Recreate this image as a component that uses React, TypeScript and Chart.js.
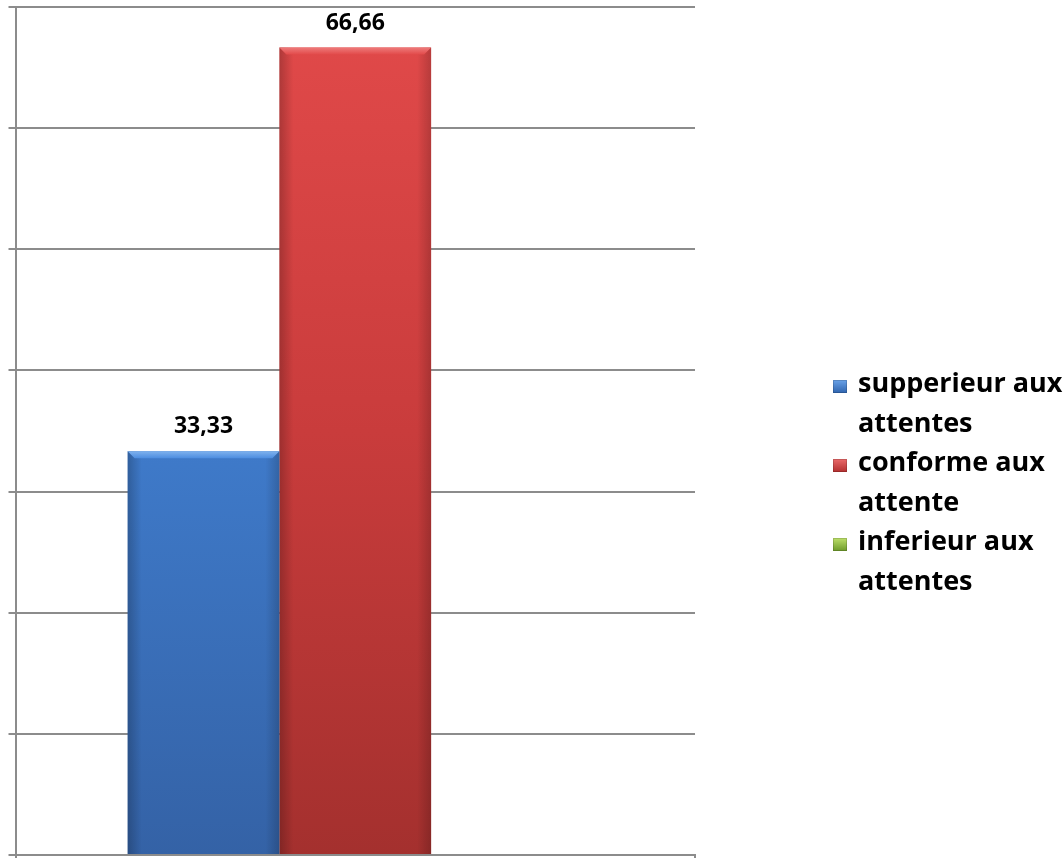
import React, { useEffect, useRef } from "react";
import { Chart, registerables } from "chart.js";

Chart.register(...registerables);

const categories = [""];
const seriesNames = ["supperieur aux attentes", "conforme aux attente", "inferieur aux attentes"];
const legendLines = [
  ["supperieur aux", "attentes"],
  ["conforme aux", "attente"],
  ["inferieur aux", "attentes"],
];
const valuesSup = [33.33];
const valuesConf = [66.66];
const valuesInf: (number | null)[] = [null];
const yTicks = [0, 10, 20, 30, 40, 50, 60, 70];

const palettes = [
  { top: "#4d8de0", mid: "#3f7bcb", bottom: "#3462a6", light: "#7fb2ee", legend: ["#6aa2e8", "#2f64ae"] },
  { top: "#e24a4a", mid: "#c93c3c", bottom: "#a4302e", light: "#ee7b7b", legend: ["#ea6a6a", "#b22f2f"] },
  { top: "#a6cc4e", mid: "#8fb83e", bottom: "#6f9430", light: "#c6e27e", legend: ["#bde06a", "#6d9a2a"] },
];

const FONT = "'Open Sans', 'DejaVu Sans', sans-serif";

const fmt = (v: number) => v.toFixed(2).replace(".", ",");

const bevelPlugin = {
  id: "bevel",
  afterDatasetsDraw(chart: any) {
    const ctx = chart.ctx;
    chart.data.datasets.forEach((ds: any, di: number) => {
      const meta = chart.getDatasetMeta(di);
      const pal = palettes[di];
      meta.data.forEach((bar: any, i: number) => {
        const v = ds.data[i];
        if (v === null || v === undefined) return;
        const { x, y, base, width } = bar.getProps(["x", "y", "base", "width"], true);
        const l = x - width / 2;
        const r = x + width / 2;
        const b = 7;
        ctx.save();
        const gl = ctx.createLinearGradient(l, 0, l + 14, 0);
        gl.addColorStop(0, "rgba(0,0,0,0.22)");
        gl.addColorStop(1, "rgba(0,0,0,0)");
        ctx.fillStyle = gl;
        ctx.fillRect(l, y, 14, base - y);
        const gr = ctx.createLinearGradient(r - 14, 0, r, 0);
        gr.addColorStop(0, "rgba(0,0,0,0)");
        gr.addColorStop(1, "rgba(0,0,0,0.18)");
        ctx.fillStyle = gr;
        ctx.fillRect(r - 14, y, 14, base - y);
        const gt = ctx.createLinearGradient(0, y, 0, y + b);
        gt.addColorStop(0, pal.light);
        gt.addColorStop(1, pal.top);
        ctx.fillStyle = gt;
        ctx.beginPath();
        ctx.moveTo(l, y);
        ctx.lineTo(r, y);
        ctx.lineTo(r - b, y + b);
        ctx.lineTo(l + b, y + b);
        ctx.closePath();
        ctx.fill();
        ctx.fillStyle = "#000";
        ctx.font = `bold 23px ${FONT}`;
        ctx.textAlign = "center";
        ctx.textBaseline = "bottom";
        ctx.fillText(fmt(v), x, y - 13);
        ctx.restore();
      });
    });
  },
};

export default function App() {
  const ref = useRef<HTMLCanvasElement | null>(null);

  useEffect(() => {
    if (!ref.current) return;
    const mkBg = (di: number) => (c: any) => {
      const area = c.chart.chartArea;
      if (!area) return palettes[di].mid;
      const g = c.chart.ctx.createLinearGradient(0, area.top, 0, area.bottom);
      g.addColorStop(0, palettes[di].top);
      g.addColorStop(0.5, palettes[di].mid);
      g.addColorStop(1, palettes[di].bottom);
      return g;
    };
    const chart = new Chart(ref.current, {
      type: "bar",
      data: {
        labels: categories,
        datasets: [
          { label: seriesNames[0], data: valuesSup, backgroundColor: mkBg(0) },
          { label: seriesNames[1], data: valuesConf, backgroundColor: mkBg(1) },
          { label: seriesNames[2], data: valuesInf, backgroundColor: mkBg(2) },
        ],
      },
      options: {
        animation: false,
        responsive: false,
        maintainAspectRatio: false,
        layout: { padding: { left: 8.5, right: 369, top: 7, bottom: 0 } },
        plugins: { legend: { display: false }, tooltip: { enabled: false } },
        datasets: { bar: { categoryPercentage: 0.67, barPercentage: 1, borderWidth: 0 } },
        scales: {
          x: {
            grid: { drawOnChartArea: false, drawTicks: true, tickLength: 5, color: "#8c8c8c", lineWidth: 2 },
            border: { display: true, color: "#8c8c8c", width: 2 },
            ticks: { display: false },
          },
          y: {
            min: yTicks[0],
            max: yTicks[yTicks.length - 1],
            afterBuildTicks: (scale: any) => {
              scale.ticks = yTicks.map((v) => ({ value: v }));
            },
            grid: { color: "#8c8c8c", lineWidth: 2, drawTicks: true, tickLength: 7 },
            border: { display: true, color: "#8c8c8c", width: 2 },
            ticks: { display: false },
          },
        },
      },
      plugins: [bevelPlugin],
    });
    return () => chart.destroy();
  }, []);

  return (
    <div style={{ position: "fixed", left: 0, top: 0, width: 1064, height: 860, background: "#fff" }}>
      <canvas ref={ref} width={1064} height={860} style={{ position: "absolute", left: 0, top: 0 }} />
      <div
        style={{
          position: "absolute",
          left: 833,
          top: 362,
          fontFamily: FONT,
          fontWeight: "bold",
          fontSize: 27,
          lineHeight: "39.6px",
          color: "#000",
          whiteSpace: "nowrap",
        }}
      >
        {legendLines.map((lines, i) => (
          <div key={i} style={{ position: "relative", paddingLeft: 25 }}>
            <span
              style={{
                position: "absolute",
                left: 0,
                top: 17.5,
                width: 14,
                height: 13,
                background: `linear-gradient(180deg, ${palettes[i].legend[0]}, ${palettes[i].legend[1]})`,
                boxShadow: "inset 0 0 0 1px rgba(0,0,0,0.15)",
              }}
            />
            {lines.map((t, j) => (
              <div key={j}>{t}</div>
            ))}
          </div>
        ))}
      </div>
    </div>
  );
}
